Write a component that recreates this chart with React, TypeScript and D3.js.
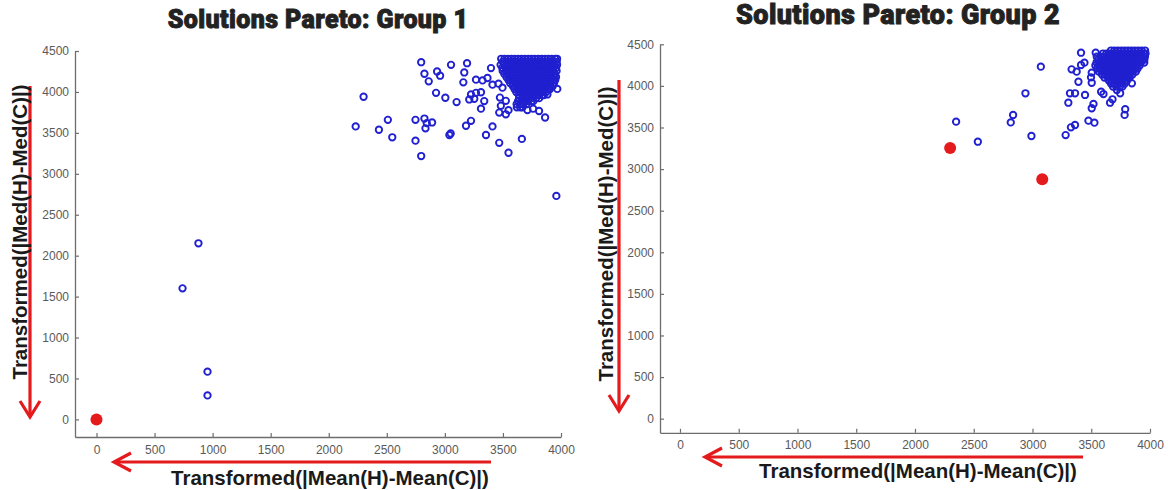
import React, { useRef, useEffect } from 'react';
import * as d3 from 'd3';

type Pt = [number, number];

const xTicks = [0, 500, 1000, 1500, 2000, 2500, 3000, 3500, 4000];
const yTicks = [0, 500, 1000, 1500, 2000, 2500, 3000, 3500, 4000, 4500];

const titles = ['Solutions Pareto: Group 1', 'Solutions Pareto: Group 2'];
const xLabel = 'Transformed(|Mean(H)-Mean(C)|)';
const yLabel = 'Transformed(|Med(H)-Med(C)|)';

// group 1: loose solutions
const group1Points: Pt[] = [
    [2796, 4363], [2300, 3941], [2232, 3579], [2509, 3659], [2432, 3538], [2547, 3446],
    [2747, 3659], [2824, 3675], [2844, 3619], [2890, 3627], [2833, 3555], [2747, 3405],
    [2796, 3217], [3039, 3474], [3050, 3492], [2824, 4222], [2861, 4129], [2933, 4250],
    [2959, 4198], [3053, 4331], [2924, 3989], [3004, 3929], [3101, 3876], [3159, 4117],
    [3167, 4238], [3191, 4351], [3182, 3587], [3397, 4291], [3268, 4150], [3324, 4141],
    [3367, 4170], [3410, 4089], [3225, 3969], [3268, 3989], [3311, 3996], [3253, 3917],
    [3210, 3908], [3339, 3888], [3311, 3796], [3225, 3647], [3410, 3579], [3354, 3474],
    [3468, 3378], [3548, 3257], [3663, 3426], [3468, 3748], [3525, 3727], [3711, 3779],
    [3760, 3796], [3811, 3767], [3863, 3688], [3968, 4037], [3883, 3969], [3960, 2730],
    [878, 2151], [741, 1601], [956, 583], [956, 293], [3462, 4101], [3496, 4052],
    [3474, 3931], [3525, 3891], [3482, 3830], [3548, 3777],
];

// group 1: packed corner, one y per row
const group1DenseY = [
    4405, 4368, 4331, 4294, 4257, 4220, 4183, 4146, 4109,
    4072, 4035, 3998, 3961, 3924, 3887, 3850, 3813,
];
const group1DenseX = [
    [3485, 3514, 3543, 3572, 3601, 3630, 3659, 3688, 3717, 3746, 3775, 3804, 3833, 3862, 3891, 3920, 3949, 3966],
    [3499, 3528, 3557, 3586, 3615, 3644, 3673, 3702, 3731, 3760, 3789, 3818, 3847, 3876, 3905, 3934, 3963],
    [3480, 3509, 3538, 3567, 3596, 3625, 3654, 3683, 3712, 3741, 3770, 3799, 3828, 3857, 3886, 3915, 3944, 3966],
    [3494, 3523, 3552, 3581, 3610, 3639, 3668, 3697, 3726, 3755, 3784, 3813, 3842, 3871, 3900, 3929, 3958],
    [3498, 3527, 3556, 3585, 3614, 3643, 3672, 3701, 3730, 3759, 3788, 3817, 3846, 3875, 3904, 3933, 3962],
    [3512, 3541, 3570, 3599, 3628, 3657, 3686, 3715, 3744, 3773, 3802, 3831, 3860, 3889, 3918, 3947],
    [3530, 3559, 3588, 3617, 3646, 3675, 3704, 3733, 3762, 3791, 3820, 3849, 3878, 3907, 3936, 3957],
    [3548, 3577, 3606, 3635, 3664, 3693, 3722, 3751, 3780, 3809, 3838, 3867, 3896, 3925, 3950],
    [3562, 3591, 3620, 3649, 3678, 3707, 3736, 3765, 3794, 3823, 3852, 3881, 3910, 3940],
    [3585, 3614, 3643, 3672, 3701, 3730, 3759, 3788, 3817, 3846, 3875, 3904, 3929],
    [3600, 3629, 3658, 3687, 3716, 3745, 3774, 3803, 3832, 3861, 3890, 3905],
    [3615, 3644, 3673, 3702, 3731, 3760, 3789, 3818, 3847, 3872],
    [3638, 3667, 3696, 3725, 3754, 3783, 3812, 3841, 3852],
    [3640, 3669, 3698, 3727, 3756, 3785, 3812],
    [3630, 3659, 3688, 3717, 3746, 3762],
    [3618, 3647, 3676, 3702],
    [3620, 3649, 3668],
];
const group1Pareto: Pt[] = [[0, 0]];

// group 2
const group2Points: Pt[] = [
    [3071, 4231], [2940, 3911], [2835, 3650], [2815, 3561], [2350, 3570], [2535, 3329],
    [2991, 3398], [3413, 4399], [3538, 4399], [3547, 4351], [3442, 4279], [3413, 4251],
    [3333, 4199], [3376, 4171], [3504, 4159], [3498, 4103], [3391, 4050], [3504, 4038],
    [3319, 3911], [3362, 3911], [3447, 3891], [3305, 3798], [3519, 3783], [3504, 3731],
    [3584, 3930], [3604, 3902], [3660, 3798], [3681, 3839], [3718, 3951], [3746, 3911],
    [3789, 3719], [3784, 3651], [3846, 4031], [3476, 3582], [3527, 3558], [3362, 3530],
    [3327, 3502], [3282, 3409],
];
const group2DenseY = [4425, 4389, 4353, 4317, 4281, 4245, 4209, 4173, 4137, 4101, 4065, 4029, 3993];
const group2DenseX = [
    [3668, 3697, 3726, 3755, 3784, 3813, 3842, 3871, 3900, 3929, 3958],
    [3600, 3629, 3658, 3687, 3716, 3745, 3774, 3803, 3832, 3861, 3890, 3919, 3948, 3962],
    [3580, 3609, 3638, 3667, 3696, 3725, 3754, 3783, 3812, 3841, 3870, 3899, 3928, 3957],
    [3560, 3589, 3618, 3647, 3676, 3705, 3734, 3763, 3792, 3821, 3850, 3879, 3908, 3937, 3952],
    [3545, 3574, 3603, 3632, 3661, 3690, 3719, 3748, 3777, 3806, 3835, 3864, 3893, 3922, 3951],
    [3535, 3564, 3593, 3622, 3651, 3680, 3709, 3738, 3767, 3796, 3825, 3854, 3883, 3912],
    [3550, 3579, 3608, 3637, 3666, 3695, 3724, 3753, 3782, 3811, 3840, 3869, 3894],
    [3565, 3594, 3623, 3652, 3681, 3710, 3739, 3768, 3797, 3826, 3855, 3880],
    [3592, 3621, 3650, 3679, 3708, 3737, 3766, 3795, 3824, 3850],
    [3612, 3641, 3670, 3699, 3728, 3757, 3786, 3815, 3827],
    [3650, 3679, 3708, 3737, 3766, 3795, 3805],
    [3668, 3697, 3726, 3755, 3785],
    [3685, 3714, 3743, 3765],
];
const group2Pareto: Pt[] = [[2299, 3254], [3083, 2877]];

const flatten = (ys: number[], xs: number[][]): Pt[] =>
    ys.flatMap((y, i) => xs[i].map(x => [x, y] as Pt));

const panels = [
    {
        title: titles[0], titleX: 318, titleY: 28, titleSize: 25,
        xDomain: [-185, 4000], xRange: [75, 561],
        yDomain: [-215, 4500], yRange: [437, 51],
        points: [...group1Points, ...flatten(group1DenseY, group1DenseX)],
        pareto: group1Pareto,
        yLab: { x: 27, y: 232 }, xLab: { x: 330, y: 485 },
        vArrow: { x: 30, y1: 86, y2: 417 },
        hArrow: { y: 462, x1: 491, x2: 114 },
    },
    {
        title: titles[1], titleX: 898, titleY: 24, titleSize: 27,
        xDomain: [-170, 4000], xRange: [660, 1150],
        yDomain: [-170, 4500], yRange: [432.8, 44.3],
        points: [...group2Points, ...flatten(group2DenseY, group2DenseX)],
        pareto: group2Pareto,
        yLab: { x: 613, y: 234 }, xLab: { x: 918, y: 478 },
        vArrow: { x: 619, y1: 80, y2: 411 },
        hArrow: { y: 457, x1: 1083, x2: 705 },
    },
];

const RED = '#e41a1c';
const BLUE = '#2020d0';

const App = () => {
    const ref = useRef<SVGSVGElement>(null);

    useEffect(() => {
        const svg = d3.select(ref.current);
        svg.selectAll('*').remove();
        svg.append('rect').attr('width', 1168).attr('height', 490).attr('fill', '#fff');

        panels.forEach(p => {
            const x = d3.scaleLinear().domain(p.xDomain).range(p.xRange);
            const y = d3.scaleLinear().domain(p.yDomain).range(p.yRange);
            const g = svg.append('g');

            g.append('text')
                .attr('x', p.titleX).attr('y', p.titleY)
                .attr('text-anchor', 'middle')
                .attr('font-family', 'Roboto, "DejaVu Sans", sans-serif')
                .attr('font-weight', 900)
                .attr('font-size', p.titleSize)
                .attr('letter-spacing', 0.4)
                .attr('fill', '#222')
                .attr('stroke', '#222')
                .attr('stroke-width', 0.9)
                .text(p.title);

            const xAxis = g.append('g')
                .attr('transform', `translate(0,${p.yRange[0]})`)
                .call(d3.axisBottom(x).tickValues(xTicks).tickFormat(d3.format('d'))
                    .tickSizeInner(-4).tickSizeOuter(0).tickPadding(8));
            const yAxis = g.append('g')
                .attr('transform', `translate(${p.xRange[0]},0)`)
                .call(d3.axisLeft(y).tickValues(yTicks).tickFormat(d3.format('d'))
                    .tickSizeInner(-4).tickSizeOuter(0).tickPadding(6));
            [xAxis, yAxis].forEach(a => {
                a.select('.domain').attr('stroke', '#6d6d6d').attr('stroke-width', 1.3);
                a.selectAll('.tick line').attr('stroke', '#6d6d6d').attr('stroke-width', 1.2);
                a.selectAll('.tick text')
                    .attr('fill', '#5a5a5a')
                    .attr('font-family', '"Liberation Sans", Arial, sans-serif')
                    .attr('font-size', 12);
            });

            g.append('g')
                .selectAll('circle')
                .data(p.points)
                .join('circle')
                .attr('cx', d => x(d[0]))
                .attr('cy', d => y(d[1]))
                .attr('r', 3.2)
                .attr('fill', 'none')
                .attr('stroke', BLUE)
                .attr('stroke-width', 1.9);

            g.append('g')
                .selectAll('circle')
                .data(p.pareto)
                .join('circle')
                .attr('cx', d => x(d[0]))
                .attr('cy', d => y(d[1]))
                .attr('r', 6)
                .attr('fill', RED);

            // red arrows
            const va = p.vArrow;
            g.append('line').attr('x1', va.x).attr('x2', va.x).attr('y1', va.y1).attr('y2', va.y2)
                .attr('stroke', RED).attr('stroke-width', 3.2);
            g.append('path')
                .attr('d', `M${va.x - 10},${va.y2 - 16}L${va.x},${va.y2}L${va.x + 10},${va.y2 - 16}`)
                .attr('fill', 'none').attr('stroke', RED).attr('stroke-width', 3.2);
            const ha = p.hArrow;
            g.append('line').attr('x1', ha.x1).attr('x2', ha.x2).attr('y1', ha.y).attr('y2', ha.y)
                .attr('stroke', RED).attr('stroke-width', 3.2);
            g.append('path')
                .attr('d', `M${ha.x2 + 17},${ha.y - 9}L${ha.x2},${ha.y}L${ha.x2 + 17},${ha.y + 9}`)
                .attr('fill', 'none').attr('stroke', RED).attr('stroke-width', 3.2);

            g.append('text')
                .attr('transform', `translate(${p.yLab.x},${p.yLab.y}) rotate(-90)`)
                .attr('text-anchor', 'middle')
                .attr('font-family', '"Liberation Sans", Arial, sans-serif')
                .attr('font-weight', 'bold')
                .attr('font-size', 20.5)
                .attr('fill', '#1a1a1a')
                .text(yLabel);

            g.append('text')
                .attr('x', p.xLab.x).attr('y', p.xLab.y)
                .attr('text-anchor', 'middle')
                .attr('font-family', '"Liberation Sans", Arial, sans-serif')
                .attr('font-weight', 'bold')
                .attr('font-size', 20.5)
                .attr('fill', '#1a1a1a')
                .text(xLabel);
        });
    }, []);

    return (
        <svg ref={ref} width={1168} height={490} style={{ position: 'absolute', left: 0, top: 0 }} />
    );
};

export default App;
